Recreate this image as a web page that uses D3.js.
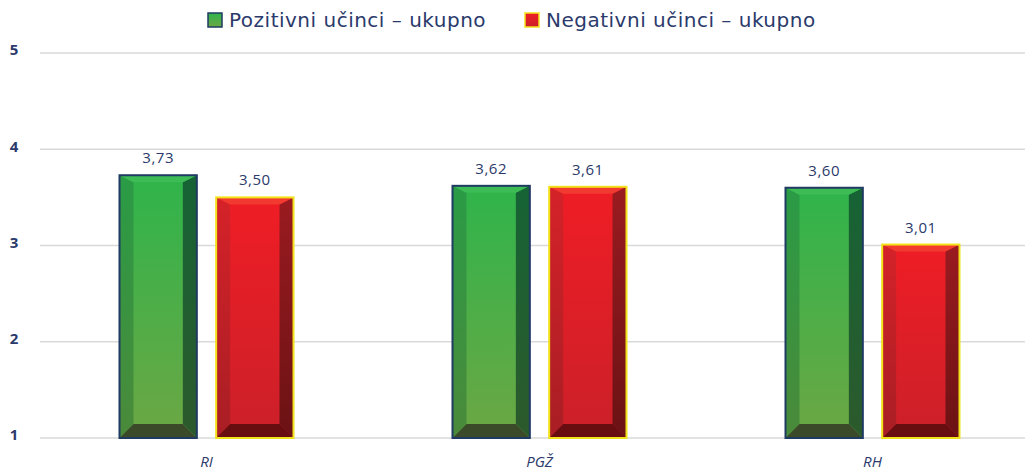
<!DOCTYPE html>
<html>
<head>
<meta charset="utf-8">
<script src="https://cdn.jsdelivr.net/npm/d3@7"></script>
<style>
  body { margin: 0; background: #fff; }
  text { font-family: "Open Sans", "Noto Sans", sans-serif; fill: #2b3a6b; }
</style>
</head>
<body>
<div id="chart"></div>
<script>
// ************data***************
const categories = ["RI", "PGŽ", "RH"]
const seriesNames = ["Pozitivni učinci – ukupno", "Negativni učinci – ukupno"]
const positive = [3.73, 3.62, 3.60]
const negative = [3.50, 3.61, 3.01]
const yTicks = [1, 2, 3, 4, 5]

const width = 1025
const height = 473
const margin = { top: 53, bottom: 35, left: 40, right: -14 }

const rows = categories.map(function(c, i) {
  return { cat: c, values: [positive[i], negative[i]] }
})

const x0 = d3.scaleBand()
  .domain(categories)
  .range([margin.left, width - margin.right])
  .paddingInner(0)
  .paddingOuter(0)

const x1 = d3.scaleBand()
  .domain([0, 1])
  .range([x0.bandwidth() / 2 - 87, x0.bandwidth() / 2 + 87])
  .paddingInner(0.2)
  .paddingOuter(0)

const y = d3.scaleLinear()
  .domain([1, 5])
  .range([height - margin.bottom, margin.top])

const svg = d3.select("#chart")
  .append("svg")
  .attr("width", width)
  .attr("height", height)

// gradients for bevelled bars
const themes = [
  {
    border: "#1f3a63",
    face: ["#2fb44b", "#6ca744"],
    left: ["#2a9b46", "#4a8a3a"],
    right: ["#166335", "#2c5a2c"],
    top: "#3dbb55",
    bottom: "#3b4b2a"
  },
  {
    border: "#f2e21a",
    face: ["#ef1d25", "#cb2029"],
    left: ["#d52229", "#a81e24"],
    right: ["#9a1b20", "#6b1214"],
    top: "#f23a30",
    bottom: "#690e10"
  }
]

const defs = svg.append("defs")
themes.forEach(function(t, i) {
  ["face", "left", "right"].forEach(function(k) {
    const g = defs.append("linearGradient")
      .attr("id", "g" + i + k)
      .attr("x1", 0).attr("y1", 0).attr("x2", 0).attr("y2", 1)
    g.append("stop").attr("offset", "0%").attr("stop-color", t[k][0])
    g.append("stop").attr("offset", "100%").attr("stop-color", t[k][1])
  })
})

// gridlines + y tick labels
const yAxis = svg.append("g").attr("class", "y-axis")
yAxis.selectAll("line")
  .data(yTicks)
  .enter()
  .append("line")
  .attr("x1", margin.left)
  .attr("x2", width)
  .attr("y1", function(d) { return y(d) })
  .attr("y2", function(d) { return y(d) })
  .attr("stroke", "#d9d9d9")
  .attr("stroke-width", 1.5)

yAxis.selectAll("text")
  .data(yTicks)
  .enter()
  .append("text")
  .attr("x", 14)
  .attr("y", function(d) { return y(d) })
  .attr("dy", "0.15em")
  .attr("text-anchor", "middle")
  .style("font-size", "15px")
  .style("font-weight", "bold")
  .text(function(d) { return d })

// bars
const bx = 14, bt = 7, bb = 14

const group = svg.selectAll(".cat")
  .data(rows)
  .enter()
  .append("g")
  .attr("class", "cat")
  .attr("transform", function(d) { return "translate(" + x0(d.cat) + ",0)" })

const bar = group.selectAll(".bar")
  .data(function(d) { return d.values.map(function(v, i) { return { v: v, i: i } }) })
  .enter()
  .append("g")
  .attr("class", "bar")

bar.each(function(d) {
  const g = d3.select(this)
  const t = themes[d.i]
  const xl = x1(d.i), w = x1.bandwidth(), xr = xl + w
  const yt = y(d.v), yb = y(1)
  const pts = function(a) { return a.map(function(p) { return p.join(",") }).join(" ") }

  g.append("rect")
    .attr("x", xl).attr("y", yt).attr("width", w).attr("height", yb - yt)
    .attr("fill", "url(#g" + d.i + "face)")
  g.append("polygon")
    .attr("points", pts([[xl, yt], [xl + bx, yt + bt], [xl + bx, yb - bb], [xl, yb]]))
    .attr("fill", "url(#g" + d.i + "left)")
  g.append("polygon")
    .attr("points", pts([[xr, yt], [xr, yb], [xr - bx, yb - bb], [xr - bx, yt + bt]]))
    .attr("fill", "url(#g" + d.i + "right)")
  g.append("polygon")
    .attr("points", pts([[xl, yt], [xr, yt], [xr - bx, yt + bt], [xl + bx, yt + bt]]))
    .attr("fill", t.top)
  g.append("polygon")
    .attr("points", pts([[xl, yb], [xr, yb], [xr - bx, yb - bb], [xl + bx, yb - bb]]))
    .attr("fill", t.bottom)
  g.append("rect")
    .attr("x", xl).attr("y", yt).attr("width", w).attr("height", yb - yt)
    .attr("fill", "none")
    .attr("stroke", t.border)
    .attr("stroke-width", 2)

  g.append("text")
    .attr("x", xl + w / 2)
    .attr("y", yt - 12)
    .attr("text-anchor", "middle")
    .style("font-size", "15px")
    .style("letter-spacing", "0.5px")
    .text(d3.format(".2f")(d.v).replace(".", ","))
})

// x labels
svg.selectAll(".x-label")
  .data(categories)
  .enter()
  .append("text")
  .attr("class", "x-label")
  .attr("x", function(d) { return x0(d) + x0.bandwidth() / 2 })
  .attr("y", 467)
  .attr("text-anchor", "middle")
  .style("font-size", "15px")
  .style("font-style", "italic")
  .text(function(d) { return d })

// legend
const legendX = [208, 525]
const legend = svg.selectAll(".legend")
  .data(seriesNames)
  .enter()
  .append("g")
  .attr("class", "legend")
  .attr("transform", function(d, i) { return "translate(" + legendX[i] + ",13)" })

legend.append("rect")
  .attr("width", 14)
  .attr("height", 14)
  .attr("fill", function(d, i) { return "url(#g" + i + "face)" })
  .attr("stroke", function(d, i) { return themes[i].border })
  .attr("stroke-width", 1.5)

legend.append("text")
  .attr("x", 21)
  .attr("y", 7)
  .attr("dy", "0.37em")
  .style("font-family", "'DejaVu Sans', sans-serif")
  .style("font-size", "20px")
  .style("letter-spacing", "0.5px")
  .text(function(d) { return d })
</script>
</body>
</html>
